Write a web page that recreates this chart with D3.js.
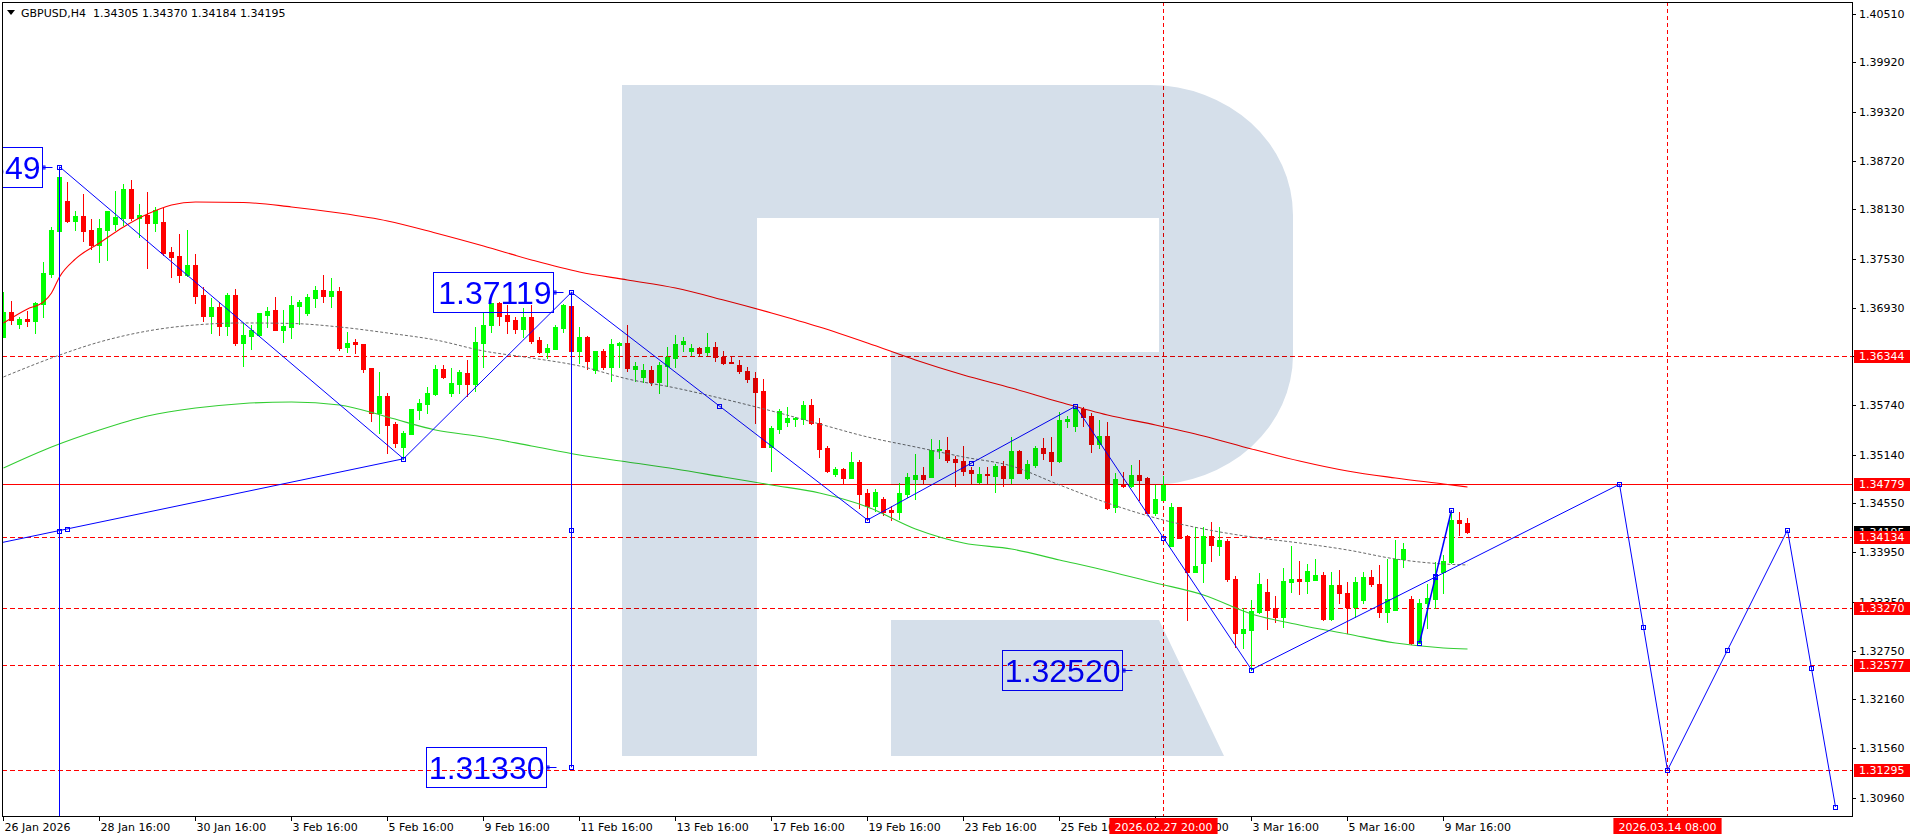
<!DOCTYPE html>
<html><head><meta charset="utf-8">
<script src="https://cdn.jsdelivr.net/npm/d3@7"></script>
<style>html,body{margin:0;padding:0;background:#fff;overflow:hidden}svg{display:block}</style>
</head><body>
<svg id="c" width="1916" height="840"></svg>
<script>
// ---------------- DATA ----------------
const symbol = "GBPUSD,H4";
const open = [
1.36578,1.36875,1.36737,1.36794,1.36769,1.36981,1.37342,1.37870,1.38232,1.37992,
1.38049,1.37878,1.37700,1.37878,1.37955,1.38025,1.38378,1.38029,1.38061,1.37968,
1.37976,1.37610,1.37561,1.37334,1.37452,1.37086,1.36834,1.36940,1.36713,1.37086,
1.36505,1.36591,1.36599,1.36847,1.36903,1.36664,1.36696,1.36956,1.36867,1.37054,
1.37147,1.37078,1.37135,1.36448,1.36513,1.36489,1.36200,1.35652,1.35859,1.35518,
1.35238,1.35396,1.35685,1.35762,1.35880,1.36184,1.35888,1.36005,1.36135,1.36001,
1.36505,1.36720,1.36993,1.36846,1.36781,1.36672,1.36814,1.36538,1.36395,1.36432,
1.36688,1.36952,1.36408,1.36574,1.36176,1.36408,1.36213,1.36481,1.36501,1.36188,
1.36091,1.36172,1.36030,1.36221,1.36322,1.36485,1.36403,1.36440,1.36387,1.36452,
1.36330,1.36273,1.36233,1.36160,1.36074,1.35916,1.35238,1.35457,1.35542,1.35579,
1.35571,1.35745,1.35526,1.35225,1.34909,1.34965,1.34860,1.35055,1.34673,1.34515,
1.34600,1.34470,1.34446,1.34665,1.34848,1.34892,1.34864,1.35193,1.35197,1.35091,
1.35067,1.34953,1.34807,1.34909,1.34884,1.35006,1.34852,1.35185,1.34852,1.35018,
1.35225,1.35169,1.35063,1.35554,1.35494,1.35700,1.35612,1.35271,1.35368,1.34507,
1.34780,1.34763,1.34893,1.34853,1.34434,1.34589,1.34028,1.34507,1.34154,1.33711,
1.33824,1.34154,1.34028,1.34089,1.33626,1.32972,1.33004,1.33228,1.33467,1.33268,
1.33167,1.33593,1.33622,1.33605,1.33618,1.33674,1.33134,1.33553,1.33459,1.33289,
1.33370,1.33650,1.33561,1.33228,1.33248,1.33865,1.33382,1.32842,1.33329,1.33382,
1.33715,1.33837,1.34345,1.34305];
const high = [
1.37127,1.37009,1.36822,1.36895,1.37001,1.37488,1.37911,1.38649,1.38463,1.38110,
1.38317,1.38012,1.38012,1.38110,1.38354,1.38443,1.38488,1.38191,1.38341,1.38163,
1.38142,1.37671,1.37830,1.37878,1.37582,1.37188,1.37054,1.36997,1.37107,1.37155,
1.36749,1.36721,1.36867,1.36944,1.37062,1.36903,1.37078,1.37025,1.37098,1.37200,
1.37330,1.37297,1.37179,1.36639,1.36550,1.36489,1.36200,1.36148,1.35888,1.35538,
1.35429,1.35697,1.35819,1.35969,1.36233,1.36233,1.36192,1.36172,1.36294,1.36700,
1.36863,1.36993,1.37005,1.36964,1.36822,1.36923,1.36964,1.36570,1.36489,1.36720,
1.36976,1.37119,1.36696,1.36586,1.36403,1.36432,1.36546,1.36513,1.36720,1.36265,
1.36241,1.36225,1.36274,1.36456,1.36594,1.36578,1.36489,1.36456,1.36619,1.36513,
1.36399,1.36326,1.36294,1.36213,1.36143,1.36062,1.35494,1.35697,1.35725,1.35603,
1.35798,1.35818,1.35587,1.35246,1.34994,1.34974,1.35173,1.35075,1.34726,1.34726,
1.34628,1.34510,1.34791,1.34913,1.35148,1.34994,1.35327,1.35319,1.35359,1.35124,
1.35246,1.34994,1.34986,1.34994,1.35022,1.35067,1.35359,1.35197,1.35075,1.35250,
1.35347,1.35359,1.35656,1.35611,1.35730,1.35720,1.35645,1.35563,1.35543,1.34922,
1.34934,1.35015,1.35076,1.34865,1.34771,1.34881,1.34548,1.34507,1.34162,1.34263,
1.34263,1.34324,1.34263,1.34109,1.33662,1.33268,1.33370,1.33703,1.33630,1.33419,
1.33764,1.34028,1.33845,1.33808,1.33870,1.33715,1.33715,1.33735,1.33593,1.33654,
1.33715,1.33735,1.33796,1.33870,1.34101,1.34060,1.33423,1.33382,1.33564,1.33828,
1.33918,1.34466,1.34440,1.34370];
const low = [
1.36570,1.36733,1.36688,1.36713,1.36627,1.36822,1.37310,1.37860,1.37976,1.37878,
1.37748,1.37647,1.37488,1.37513,1.37878,1.37935,1.38000,1.37797,1.37419,1.37870,
1.37574,1.37310,1.37245,1.37318,1.36985,1.36769,1.36619,1.36603,1.36603,1.36477,
1.36225,1.36432,1.36599,1.36700,1.36664,1.36509,1.36558,1.36733,1.36847,1.36944,
1.37005,1.36944,1.36416,1.36395,1.36375,1.36152,1.35551,1.35400,1.35165,1.35238,
1.35090,1.35396,1.35575,1.35652,1.35867,1.36070,1.35859,1.35888,1.35859,1.35920,
1.36213,1.36639,1.36716,1.36619,1.36619,1.36570,1.36505,1.36383,1.36314,1.36424,
1.36635,1.36355,1.36261,1.36180,1.36139,1.36184,1.36042,1.36213,1.36156,1.36042,
1.36030,1.35985,1.35896,1.35977,1.36213,1.36408,1.36355,1.36351,1.36355,1.36278,
1.36245,1.36253,1.36131,1.36026,1.35522,1.35238,1.34945,1.35408,1.35494,1.35494,
1.35510,1.35510,1.35116,1.34929,1.34884,1.34799,1.34860,1.34486,1.34345,1.34454,
1.34405,1.34350,1.34352,1.34628,1.34596,1.34791,1.34864,1.35095,1.35055,1.34758,
1.34892,1.34791,1.34791,1.34791,1.34689,1.34762,1.34791,1.34913,1.34839,1.34994,
1.35083,1.34896,1.35055,1.35473,1.35433,1.35494,1.35178,1.35218,1.34483,1.34446,
1.34751,1.34751,1.34589,1.34426,1.34406,1.34589,1.34028,1.34121,1.33126,1.33711,
1.33593,1.33849,1.33918,1.33605,1.32801,1.32781,1.32520,1.33216,1.33021,1.33098,
1.33045,1.33471,1.33443,1.33459,1.33618,1.33126,1.33126,1.33329,1.32972,1.33167,
1.33329,1.33540,1.33167,1.33106,1.33248,1.33776,1.32834,1.32842,1.33025,1.33268,
1.33451,1.33816,1.34162,1.34184];
const close = [
1.36883,1.36782,1.36794,1.36773,1.36985,1.37350,1.37878,1.38524,1.37988,1.38049,
1.37870,1.37700,1.37903,1.38110,1.38033,1.38378,1.38025,1.38061,1.37968,1.38126,
1.37594,1.37553,1.37334,1.37452,1.37078,1.36834,1.36944,1.36713,1.37086,1.36505,
1.36599,1.36660,1.36867,1.36891,1.36664,1.36708,1.36964,1.37005,1.37062,1.37147,
1.37078,1.37135,1.36436,1.36497,1.36485,1.36188,1.35652,1.35859,1.35506,1.35286,
1.35404,1.35697,1.35770,1.35892,1.36184,1.36091,1.36014,1.36152,1.36001,1.36513,
1.36720,1.36993,1.36834,1.36773,1.36672,1.36814,1.36529,1.36395,1.36440,1.36696,
1.36964,1.36408,1.36574,1.36286,1.36403,1.36213,1.36489,1.36497,1.36192,1.36221,
1.36172,1.36030,1.36233,1.36334,1.36489,1.36525,1.36440,1.36383,1.36452,1.36326,
1.36261,1.36261,1.36164,1.36066,1.35908,1.35238,1.35469,1.35676,1.35591,1.35591,
1.35745,1.35522,1.35213,1.34941,1.34965,1.34860,1.35055,1.34665,1.34519,1.34685,
1.34446,1.34446,1.34669,1.34872,1.34892,1.34848,1.35197,1.35209,1.35075,1.35055,
1.34941,1.34921,1.34905,1.34892,1.35006,1.34852,1.35185,1.34921,1.35026,1.35225,
1.35165,1.35067,1.35563,1.35575,1.35701,1.35603,1.35271,1.35368,1.34495,1.34845,
1.34763,1.34893,1.34832,1.34434,1.34601,1.34771,1.34507,1.34130,1.33711,1.33788,
1.34154,1.34040,1.34101,1.33622,1.32972,1.33017,1.33235,1.33564,1.33248,1.33167,
1.33601,1.33622,1.33605,1.33723,1.33674,1.33134,1.33553,1.33451,1.33289,1.33593,
1.33650,1.33561,1.33228,1.33382,1.33870,1.33991,1.32842,1.33329,1.33390,1.33654,
1.33845,1.34345,1.34304,1.34195];

// moving averages, sampled at bar indices
const redMaBars = [0,3,5,6,7,9,12,15,18,21,24,30,36,42,48,54,60,66,72,78,84,90,96,102,108,114,120,126,132,138,144,150,156,162,168,174,180,183];
const redMa = [1.36745,1.36916,1.37001,1.37111,1.37306,1.37525,1.37720,1.37915,1.38073,1.38183,1.38219,1.38213,1.38159,1.38085,1.37988,1.37842,1.37683,1.37513,1.37366,1.37269,1.37171,1.37025,1.36867,1.36696,1.36501,1.36294,1.36111,1.35953,1.35782,1.35624,1.35502,1.35368,1.35210,1.35063,1.34941,1.34856,1.34783,1.34746];
const maBars = [0,6,12,18,24,30,36,42,48,54,60,66,72,78,84,90,96,102,108,114,120,126,132,138,144,150,156,162,168,174,180,183];
const greenMa = [1.34978,1.35234,1.35441,1.35612,1.35709,1.35764,1.35782,1.35746,1.35599,1.35441,1.35356,1.35246,1.35136,1.35051,1.34966,1.34868,1.34771,1.34673,1.34503,1.34235,1.34064,1.33991,1.33857,1.33723,1.33577,1.33430,1.33199,1.33065,1.32955,1.32845,1.32785,1.32772];
const grayMa = [1.36087,1.36318,1.36513,1.36647,1.36721,1.36745,1.36739,1.36696,1.36623,1.36538,1.36404,1.36318,1.36221,1.36063,1.35953,1.35819,1.35673,1.35514,1.35356,1.35234,1.35112,1.35002,1.34771,1.34551,1.34369,1.34235,1.34137,1.34064,1.33979,1.33869,1.33808,1.33796];

// horizontal levels
const levelPrices = [1.36344,1.34779,1.34134,1.33270,1.32577,1.31295];
const levelSolid  = [false,true,false,false,false,false];
// vertical time markers
const timeMarkBars = [145,208];
const timeMarkLabels = ["2026.02.27 20:00","2026.03.14 08:00"];
// price axis ticks
const yTicks = [1.40510,1.39920,1.39320,1.38720,1.38130,1.37530,1.36930,1.36340,1.35740,1.35140,1.34550,1.33950,1.33350,1.32750,1.32160,1.31560,1.30960];
// time axis ticks
const xTickBars = [0,12,24,36,48,60,72,84,96,108,120,132,144,156,168,180];
const xTickLabels = ["26 Jan 2026","28 Jan 16:00","30 Jan 16:00","3 Feb 16:00","5 Feb 16:00","9 Feb 16:00","11 Feb 16:00","13 Feb 16:00","17 Feb 16:00","19 Feb 16:00","23 Feb 16:00","25 Feb 16:00","27 Feb 16:00","3 Mar 16:00","5 Mar 16:00","9 Mar 16:00"];
// trend/zigzag lines [bar, price]
const lineStart = [[-34,1.33382],[7,1.38649],[50,1.35090],[71,1.37119],[108,1.34345],[134,1.35730],[156,1.32520],[177,1.32845],[202,1.34779],[208,1.31295],[223,1.34222],[7,1.38649],[71,1.37119]];
const lineEnd   = [[50,1.35090],[50,1.35090],[71,1.37119],[108,1.34345],[134,1.35730],[156,1.32520],[202,1.34779],[181,1.34466],[208,1.31295],[223,1.34222],[229,1.30847],[7,1.29762],[71,1.31330]];
const lineMid   = [true,false,false,true,true,true,true,true,true,true,true,true,true];
// price labels (price, bar of the label's right edge)
const labelPrices = [1.38649,1.37119,1.31330,1.32520];
const labelBars   = [4.775,68.73,67.8,139.8];

// ---------------- CHART ----------------
const W = 1916, H = 840;
const P = {l:2, t:2, r:1852, b:816};
const BLUE = "#0000ff", RED = "#ff0000", LIME = "#00ff00";
const FONT = "'DejaVu Sans', sans-serif";
const svg = d3.select("#c");
svg.append("rect").attr("width", W).attr("height", H).attr("fill", "#fff");

const x = d3.scaleLinear().domain([0, 1]).range([3.5, 11.5]);
const y = d3.scaleLinear().domain([1.40510, 1.30960]).range([14, 797.7]);
const py = p => Math.round(y(p)) + 0.5;

svg.append("defs").append("clipPath").attr("id", "clip")
  .append("rect").attr("x", P.l + 0.5).attr("y", P.t + 0.5)
  .attr("width", P.r - P.l - 0.5).attr("height", P.b - P.t - 0.5);
const g = svg.append("g").attr("clip-path", "url(#clip)");
g.append("rect").attr("x", 0).attr("y", 0).attr("width", W).attr("height", H).attr("fill", "#fff");

// horizontal levels
levelPrices.forEach((p, i) => {
  g.append("line").attr("x1", P.l).attr("x2", P.r).attr("y1", py(p)).attr("y2", py(p))
    .attr("stroke", RED).attr("stroke-width", 1)
    .attr("stroke-dasharray", levelSolid[i] ? null : "5,3");
});
// vertical time markers
timeMarkBars.forEach(b => {
  const xx = Math.round(x(b) - 0.5) + 0.5;
  g.append("line").attr("x1", xx).attr("x2", xx).attr("y1", P.t).attr("y2", P.b)
    .attr("stroke", RED).attr("stroke-width", 1).attr("stroke-dasharray", "4,3");
});

// candles
const n = Math.min(open.length, high.length, low.length, close.length);
const bars = d3.range(n);
const cg = g.append("g");
bars.forEach(i => {
  const up = close[i] >= open[i];
  const col = up ? LIME : RED;
  const cx = x(i);
  cg.append("line").attr("x1", cx).attr("x2", cx)
    .attr("y1", Math.round(y(high[i]))).attr("y2", Math.round(y(low[i])) + 1)
    .attr("stroke", col).attr("stroke-width", 1);
  const yt = Math.round(y(Math.max(open[i], close[i])));
  const yb = Math.round(y(Math.min(open[i], close[i])));
  cg.append("rect").attr("x", cx - 2.5).attr("width", 5)
    .attr("y", yt).attr("height", Math.max(1, yb - yt + 1)).attr("fill", col);
});

// moving averages
const lineGen = d3.line().x(d => x(d[0])).y(d => y(d[1])).curve(d3.curveMonotoneX);
g.append("path").attr("d", lineGen(redMaBars.map((b, i) => [b, redMa[i]])))
  .attr("fill", "none").attr("stroke", RED).attr("stroke-width", 1.1);
g.append("path").attr("d", lineGen(maBars.map((b, i) => [b, greenMa[i]])))
  .attr("fill", "none").attr("stroke", "#32cd32").attr("stroke-width", 1.1);
g.append("path").attr("d", lineGen(maBars.map((b, i) => [b, grayMa[i]])))
  .attr("fill", "none").attr("stroke", "#6a6a6a").attr("stroke-width", 1).attr("stroke-dasharray", "3,2");

// trend lines with square markers
const zg = g.append("g");
const square = (bx, p) => {
  const cx = Math.round(x(bx) - 0.5) + 0.5, cy = Math.round(y(p)) + 0.5;
  zg.append("rect").attr("x", cx - 2).attr("y", cy - 2).attr("width", 4).attr("height", 4)
    .attr("fill", "none").attr("stroke", BLUE).attr("stroke-width", 1);
};
lineStart.forEach((s, i) => {
  const e = lineEnd[i];
  zg.append("line").attr("x1", x(s[0])).attr("y1", y(s[1])).attr("x2", x(e[0])).attr("y2", y(e[1]))
    .attr("stroke", BLUE).attr("stroke-width", i === 7 ? 1.5 : 1);
});
lineStart.forEach((s, i) => {
  const e = lineEnd[i];
  square(s[0], s[1]); square(e[0], e[1]);
  if (lineMid[i]) square((s[0] + e[0]) / 2, (s[1] + e[1]) / 2);
});

// boxed price labels
labelPrices.forEach((p, i) => {
  const right = Math.round(x(labelBars[i])) + 0.5;
  const cy = Math.round(y(p)) + 0.5;
  zg.append("rect").attr("x", right - 120).attr("y", cy - 20).attr("width", 120).attr("height", 40)
    .attr("fill", "none").attr("stroke", BLUE).attr("stroke-width", 1);
  zg.append("text").attr("x", right - 2).attr("y", cy).attr("dy", "0.36em")
    .attr("text-anchor", "end").attr("fill", BLUE)
    .style("font-family", "'Liberation Sans', Arial, sans-serif").style("font-size", "32px")
    .text(p.toFixed(5));
  zg.append("line").attr("x1", right).attr("x2", right + 10).attr("y1", cy).attr("y2", cy)
    .attr("stroke", BLUE).attr("stroke-width", 1);
  zg.append("rect").attr("x", right + 0.5).attr("y", cy - 1.5).attr("width", 2).attr("height", 3)
    .attr("fill", "none").attr("stroke", BLUE).attr("stroke-width", 1);
});

// watermark logo (multiplied over the chart)
const logo = "M622,85 H1150 A143,130 0 0 1 1293,215 V355 A143,130 0 0 1 1150,485 H891 V352 H1159 V218 H757 V756 H622 Z M891,620 H1159 L1224,756 H891 Z";
g.append("path").attr("d", logo).attr("fill", "rgb(213,223,234)").style("mix-blend-mode", "multiply");

// frame
svg.append("rect").attr("x", P.l + 0.5).attr("y", P.t + 0.5).attr("width", P.r - P.l).attr("height", P.b - P.t)
  .attr("fill", "none").attr("stroke", "#000").attr("stroke-width", 1);

// price axis
const ax = svg.append("g").style("font-family", FONT).style("font-size", "11px");
yTicks.forEach(p => {
  const yy = py(p);
  ax.append("line").attr("x1", P.r + 1).attr("x2", P.r + 4).attr("y1", yy).attr("y2", yy).attr("stroke", "#000");
  ax.append("text").attr("x", P.r + 7).attr("y", yy).attr("dy", "0.36em").attr("fill", "#000").text(p.toFixed(5));
});
// current price label (black)
const lastClose = close[n - 1];
const priceTag = (p, bg) => {
  const yy = Math.round(y(p));
  ax.append("rect").attr("x", P.r + 2).attr("y", yy - 6).attr("width", 56).attr("height", 13).attr("fill", bg);
  ax.append("text").attr("x", P.r + 7).attr("y", yy + 0.5).attr("dy", "0.36em").attr("fill", "#fff").text(p.toFixed(5));
};
priceTag(lastClose, "#000");
levelPrices.forEach(p => priceTag(p, RED));

// time axis
xTickBars.forEach((b, i) => {
  const xx = Math.round(x(b) - 0.5) + 0.5;
  ax.append("line").attr("x1", xx).attr("x2", xx).attr("y1", P.b + 1).attr("y2", P.b + 5).attr("stroke", "#000");
  ax.append("text").attr("x", xx + 1).attr("y", P.b + 15).attr("fill", "#000").text(xTickLabels[i]);
});
timeMarkBars.forEach((b, i) => {
  const xx = x(b);
  const t = ax.append("text").attr("x", xx).attr("y", P.b + 15).attr("text-anchor", "middle")
    .attr("fill", "#fff").text(timeMarkLabels[i]);
  const w = t.node().getComputedTextLength() + 10;
  ax.insert("rect", () => t.node()).attr("x", xx - w / 2).attr("y", P.b + 2).attr("width", w).attr("height", 16).attr("fill", RED);
});

// header
const hd = svg.append("g").style("font-family", FONT).style("font-size", "11px");
hd.append("path").attr("d", "M7,10 L15,10 L11,15 Z").attr("fill", "#000");
hd.append("text").attr("x", 21).attr("y", 17).attr("fill", "#000").attr("xml:space", "preserve")
  .style("white-space", "pre")
  .text(symbol + "  " + [open[n - 1], high[n - 1], low[n - 1], close[n - 1]].map(v => v.toFixed(5)).join(" "));
</script>
</body></html>
